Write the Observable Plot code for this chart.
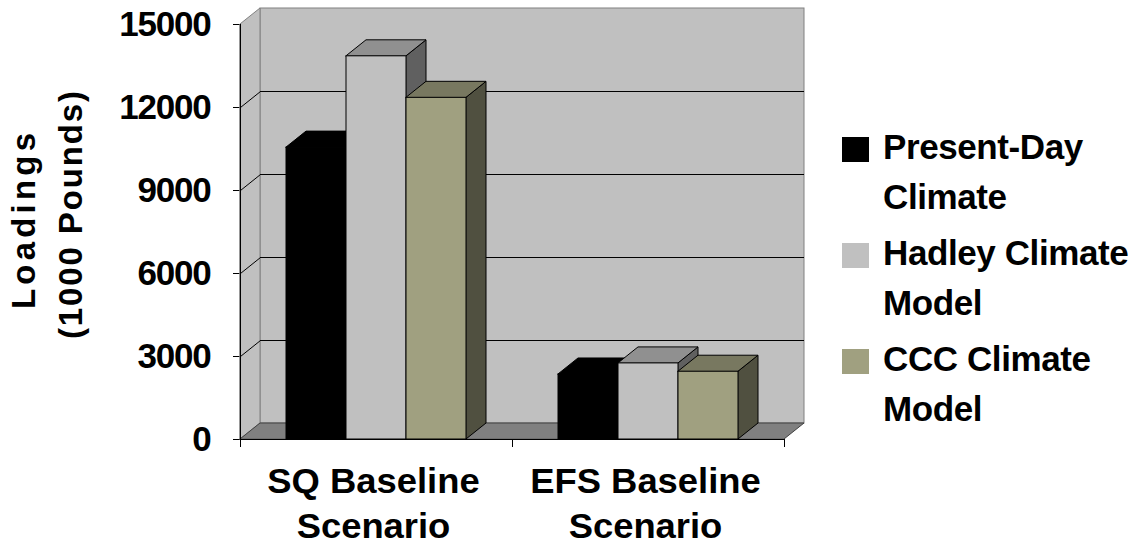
<!DOCTYPE html>
<html><head><meta charset="utf-8">
<script src="https://cdn.jsdelivr.net/npm/d3@7"></script>
<script src="https://cdn.jsdelivr.net/npm/@observablehq/plot@0.6"></script>
<style>
body{margin:0;background:#fff;}
#wrap{position:relative;width:1139px;height:555px;font-family:"Liberation Sans",Arial,sans-serif;font-weight:bold;color:#000;}
#legend{position:absolute;left:842px;top:122px;}
.item{display:flex;align-items:flex-start;margin-bottom:6px;}
.sw{width:27px;height:25px;margin-top:15px;margin-right:14px;flex:none;}
.lab{font-size:35px;line-height:50px;letter-spacing:-0.4px;white-space:nowrap;}
</style></head><body><div id="wrap"></div>
<script>
// ---- data ----
const categories = ["SQ Baseline\nScenario", "EFS Baseline\nScenario"];
const seriesLabels = [["Present-Day", "Climate"], ["Hadley Climate", "Model"], ["CCC Climate", "Model"]];
const presentDay = [10550, 2350];
const hadley = [13850, 2750];
const ccc = [12350, 2450];
const yTicks = [0, 3000, 6000, 9000, 12000, 15000];
const yLabelLines = ["Loadings", "(1000 Pounds)"];

// ---- style ----
const frontColors = ["#000000", "#c0c0c0", "#a0a080"];
const topColors = ["#000000", "#909090", "#787860"];
const sideColors = ["#000000", "#606060", "#505040"];
const series = [presentDay, hadley, ccc];

const W = 1139, H = 555, mL = 240, mR = 355, mT = 24, mB = 116;
const yMax = yTicks[yTicks.length - 1];
const nCat = categories.length;
const pxPerX = (W - mL - mR) / nCat;
const pxPerY = (H - mT - mB) / yMax;
const ddx = 20 / pxPerX;       // depth offset in x units
const ddy = 16 / pxPerY;       // depth offset in y units
const barW = 60 / pxPerX;
const pad = (1 - series.length * barW) / 2;

const marks = [];
// back wall
marks.push(Plot.rect([{x1: ddx, x2: nCat + ddx, y1: ddy, y2: yMax + ddy}],
  {x1: "x1", x2: "x2", y1: "y1", y2: "y2", fill: "#c0c0c0", stroke: "#808080"}));
// left wall
marks.push(Plot.areaY([{x: 0, y1: 0, y2: yMax}, {x: ddx, y1: ddy, y2: yMax + ddy}],
  {x: "x", y1: "y1", y2: "y2", fill: "#c0c0c0", stroke: "#808080"}));
const inner = yTicks.filter(t => t > 0 && t < yMax);
marks.push(Plot.ruleY(inner, {y: d => d + ddy, x1: () => ddx, x2: () => nCat + ddx, stroke: "#000"}));
marks.push(Plot.link(inner, {x1: () => 0, y1: d => d, x2: () => ddx, y2: d => d + ddy, stroke: "#000"}));
// floor
marks.push(Plot.areaX([{y: 0, x1: 0, x2: nCat}, {y: ddy, x1: ddx, x2: nCat + ddx}],
  {y: "y", x1: "x1", x2: "x2", fill: "#808080", stroke: "#404040"}));
// bars
categories.forEach((c, j) => {
  series.forEach((vals, i) => {
    const v = vals[j];
    const xL = j + pad + i * barW, xR = xL + barW;
    marks.push(Plot.areaY([{x: xR, y1: 0, y2: v}, {x: xR + ddx, y1: ddy, y2: v + ddy}],
      {x: "x", y1: "y1", y2: "y2", fill: sideColors[i], stroke: "#000"}));
    marks.push(Plot.areaX([{y: v, x1: xL, x2: xR}, {y: v + ddy, x1: xL + ddx, x2: xR + ddx}],
      {y: "y", x1: "x1", x2: "x2", fill: topColors[i], stroke: "#000"}));
    marks.push(Plot.rect([{x1: xL, x2: xR, y1: 0, y2: v}],
      {x1: "x1", x2: "x2", y1: "y1", y2: "y2", fill: frontColors[i], stroke: "#000"}));
  });
});
// axis lines
marks.push(Plot.ruleX([0], {y1: () => 0, y2: () => yMax, stroke: "#000"}));
marks.push(Plot.ruleY([0], {x1: () => 0, x2: () => nCat, stroke: "#000"}));
// category labels
marks.push(Plot.text(categories, {x: (d, i) => i + 0.5, y: () => 0, text: d => d, lineAnchor: "top",
  dy: 21, dx: -3, fontSize: 35, fontWeight: "bold", lineHeight: 1.29, fill: "#000"}));
// y axis title (two lines)
marks.push(Plot.text([yLabelLines[0]], {frameAnchor: "left", textAnchor: "middle", text: d => d, rotate: -90,
  dx: -216, dy: -11, fontSize: 33, fontWeight: "bold", lineAnchor: "middle", fill: "#000"}));
marks.push(Plot.text([yLabelLines[1]], {frameAnchor: "left", textAnchor: "middle", text: d => d, rotate: -90,
  dx: -169, dy: -17, fontSize: 33, fontWeight: "bold", lineAnchor: "middle", fill: "#000"}));

const svg = Plot.plot({
  width: W, height: H,
  marginLeft: mL, marginRight: mR, marginTop: mT, marginBottom: mB,
  style: {fontFamily: "'Liberation Sans', Arial, sans-serif", fontWeight: "bold", fontSize: "35px", background: "#fff", color: "#000"},
  x: {domain: [0, nCat], ticks: d3.range(nCat + 1), tickSize: 8, tickFormat: () => "", label: null},
  y: {domain: [0, yMax], ticks: yTicks, tickSize: 7, tickPadding: 23, tickFormat: d => String(d), label: null},
  marks
});
const catFlat = categories.map(c => c.replace("\n", ""));
const sel = d3.select(svg).selectAll("text");
sel.filter(function() { return catFlat.includes(this.textContent); })
  .attr("transform", function() { return (this.getAttribute("transform") || "") + " scale(1.04,1)"; });
sel.filter(function() { return this.textContent === yLabelLines[0]; })
  .attr("textLength", 176).attr("lengthAdjust", "spacing");
sel.filter(function() { return this.textContent === yLabelLines[1]; })
  .attr("textLength", 248).attr("lengthAdjust", "spacing");
sel.filter(function() { return yTicks.map(String).includes(this.textContent); }).style("letter-spacing", "-1.2px");

const wrap = document.getElementById("wrap");
wrap.appendChild(svg);

const legend = d3.select(wrap).append("div").attr("id", "legend");
seriesLabels.forEach((lines, i) => {
  const it = legend.append("div").attr("class", "item");
  it.append("div").attr("class", "sw").style("background", frontColors[i]);
  it.append("div").attr("class", "lab").html(lines.join("<br>"));
});
</script></body></html>
